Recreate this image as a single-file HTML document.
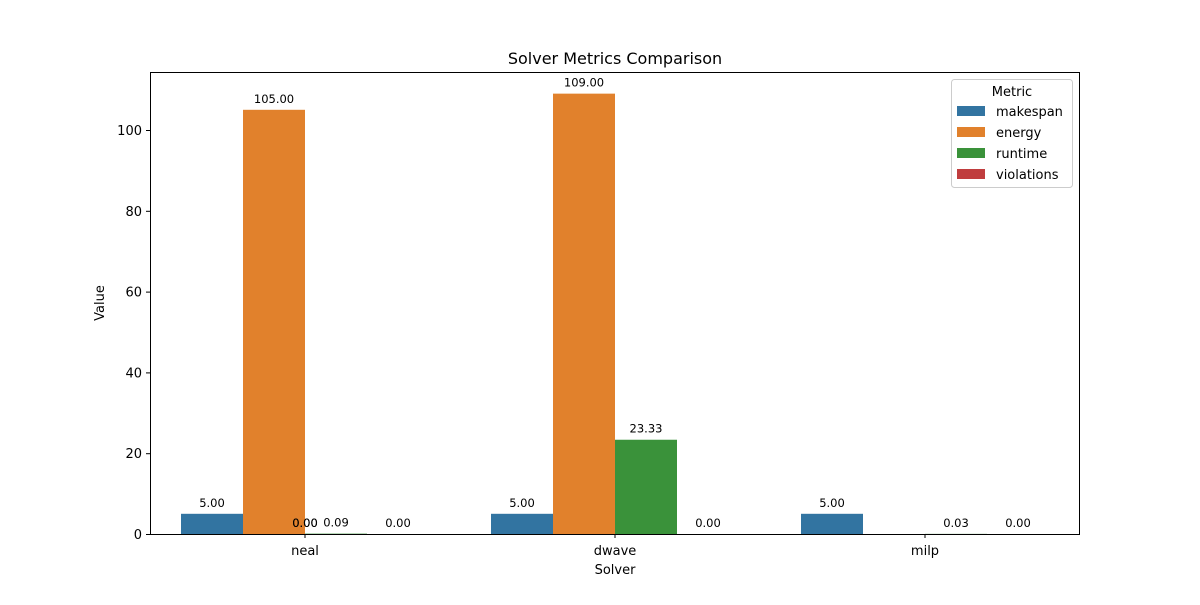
<!DOCTYPE html>
<html><head><meta charset="utf-8"><style>
body{margin:0;background:#fff}
text{font-family:"DejaVu Sans","Liberation Sans",sans-serif;fill:#000}
</style></head><body>
<svg id="chart" width="1200" height="600" xmlns="http://www.w3.org/2000/svg">
<rect width="1200" height="600" fill="#fff"/>
<text x="615" y="64" text-anchor="middle" font-size="16">Solver Metrics Comparison</text>
<g id="bars"></g>
<g id="axes"></g>
<rect x="150.5" y="72.5" width="929" height="462" fill="none" stroke="#000" stroke-width="1"/>
<text x="615" y="574" text-anchor="middle" font-size="13">Solver</text>
<text transform="translate(104,303) rotate(-90)" text-anchor="middle" font-size="13">Value</text>
<g>
<rect x="951.5" y="79.5" width="121" height="108" rx="3" fill="#fff" stroke="#ccc"/>
<text x="1012" y="96" text-anchor="middle" font-size="13">Metric</text>
<g id="legend-items"></g>
</g>
</svg>
<script>
const categories = ["neal", "dwave", "milp"];
const metrics = ["makespan", "energy", "runtime", "violations"];
const colors = ["#3274a1", "#e1812c", "#3a923a", "#c03d3e"];
const makespan = [5, 5, 5];
const energy = [105, 109, null];
const runtime = [0.09, 23.33, 0.03];
const violations = [0, 0, 0];
const yTicks = [0, 20, 40, 60, 80, 100];

const series = [makespan, energy, runtime, violations];
const NS = "http://www.w3.org/2000/svg";
const x0 = 150, x1 = 1080, yBase = 534, pxPerUnit = 4.04;
const band = (x1 - x0) / categories.length;
const barW = band * 0.8 / metrics.length;
function y(v) { return yBase - v * pxPerUnit; }
function xCat(i) { return x0 + band * (i + 0.5); }
function xBar(i, j) { return xCat(i) - band * 0.4 + j * barW; }
function mk(tag, attrs, parent) { const e = document.createElementNS(NS, tag); for (const k in attrs) e.setAttribute(k, attrs[k]); parent.appendChild(e); return e; }

const bars = document.getElementById("bars");
series.forEach((vals, j) => {
  vals.forEach((v, i) => {
    if (v === null) return;
    const r = mk("rect", { x: xBar(i, j), y: y(v), width: barW, height: yBase - y(v), fill: colors[j] }, bars);
    
    
    const t = mk("text", { x: xBar(i, j) + barW / 2, y: y(v) - 7, "text-anchor": "middle", "font-size": "11.5" }, bars);
    t.textContent = v.toFixed(2);
    
    
  });
});
for (let k = 0; k < 2; k++) {
  const t = mk("text", { x: xCat(0), y: yBase - 7, "text-anchor": "middle", "font-size": "11.5" }, bars);
  t.textContent = "0.00";
  
  
}

const axes = document.getElementById("axes");
yTicks.forEach(v => {
  mk("line", { x1: 146, x2: 150, y1: y(v) + 0.5, y2: y(v) + 0.5, stroke: "#000" }, axes);
  const t = mk("text", { x: 142, y: y(v) + 5, "text-anchor": "end", "font-size": "13" }, axes);
  t.textContent = v;
  
  
});
categories.forEach((c, i) => {
  mk("line", { x1: xCat(i), x2: xCat(i), y1: 534, y2: 538, stroke: "#000" }, axes);
  const t = mk("text", { x: xCat(i), y: 555, "text-anchor": "middle", "font-size": "13" }, axes);
  t.textContent = c;
  
  
});

const leg = document.getElementById("legend-items");
metrics.forEach((m, j) => {
  const yy = 106 + j * 21;
  const r = mk("rect", { x: 957, y: yy, width: 28, height: 10, fill: colors[j] }, leg);
  
  
  const t = mk("text", { x: 996, y: yy + 10, "font-size": "13" }, leg);
  t.textContent = m;
  
  
});
</script>
</body></html>
